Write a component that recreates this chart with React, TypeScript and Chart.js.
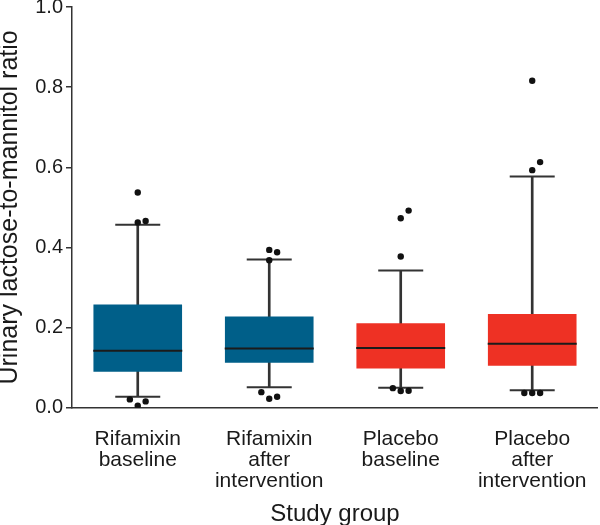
import React, { useEffect, useRef } from 'react';
import { Chart, registerables } from 'chart.js';

Chart.register(...registerables);

// ---- data ----
const categories: string[][] = [
  ['Rifamixin', 'baseline'],
  ['Rifamixin', 'after', 'intervention'],
  ['Placebo', 'baseline'],
  ['Placebo', 'after', 'intervention'],
];
const lowerQuartile = [0.09, 0.1125, 0.098, 0.105];
const upperQuartile = [0.2575, 0.2275, 0.211, 0.234];
const medianValues = [0.1425, 0.148, 0.149, 0.16];
const whiskerLow = [0.0275, 0.051, 0.05, 0.044];
const whiskerHigh = [0.457, 0.37, 0.3425, 0.577];
const outlierValues: number[][] = [
  [0.537, 0.466, 0.4625, 0.021, 0.005, 0.016],
  [0.394, 0.388, 0.368, 0.039, 0.0275, 0.0225],
  [0.492, 0.473, 0.3775, 0.049, 0.0425, 0.042],
  [0.816, 0.613, 0.593, 0.037, 0.037, 0.037],
];
const groupColors = ['#005f89', '#005f89', '#ee3124', '#ee3124'];
const yTicks = [0, 0.2, 0.4, 0.6, 0.8, 1.0];
const yTitle = 'Urinary lactose-to-mannitol ratio';
const xTitle = 'Study group';

const FONT = "'Liberation Sans', Arial, Helvetica, sans-serif";
const INK = '#1a1a1a';
const LINE = '#333333';

// simple beeswarm so near-equal outliers sit side by side
function swarm(values: number[], group: number) {
  const sorted = [...values].sort((a, b) => a - b);
  const placed: { v: number; s: number }[] = [];
  const slots = [0, 1, -1, 2, -2];
  return sorted.map((v) => {
    const s =
      slots.find((sl) => !placed.some((p) => p.s === sl && Math.abs(p.v - v) < 0.021)) ?? 0;
    placed.push({ v, s });
    return { x: group + s * 0.06, y: v };
  });
}

export default function App() {
  const ref = useRef<HTMLCanvasElement | null>(null);

  useEffect(() => {
    if (!ref.current) return;
    Chart.defaults.font.family = FONT;

    const groupIdx = categories.map((_, i) => i);
    const capPoints = [
      ...whiskerHigh.map((v, i) => ({ x: i, y: v })),
      ...whiskerLow.map((v, i) => ({ x: i, y: v })),
    ];
    const medianPoints = medianValues.map((v, i) => ({ x: i, y: v }));
    const outlierPoints = outlierValues.flatMap((vals, i) => swarm(vals, i));

    const chart = new Chart(ref.current, {
      type: 'bar',
      data: {
        datasets: [
          {
            type: 'bar',
            label: 'whisker',
            data: groupIdx.map((i) => ({ x: i, y: [whiskerLow[i], whiskerHigh[i]] })) as any,
            backgroundColor: LINE,
            borderWidth: 0,
            barThickness: 2,
            grouped: false,
            order: 4,
          } as any,
          {
            type: 'bar',
            label: 'box',
            data: groupIdx.map((i) => ({ x: i, y: [lowerQuartile[i], upperQuartile[i]] })) as any,
            backgroundColor: groupColors,
            borderWidth: 0,
            barPercentage: 0.674,
            categoryPercentage: 1,
            grouped: false,
            order: 3,
          } as any,
          {
            type: 'line',
            label: 'caps',
            data: capPoints as any,
            showLine: false,
            pointStyle: 'line',
            pointRadius: 22.5,
            pointHoverRadius: 22.5,
            borderColor: LINE,
            borderWidth: 2,
            order: 2,
          } as any,
          {
            type: 'line',
            label: 'median',
            data: medianPoints as any,
            showLine: false,
            pointStyle: 'line',
            pointRadius: 44.5,
            pointHoverRadius: 44.5,
            borderColor: '#1b1b1b',
            borderWidth: 2,
            order: 1,
          } as any,
          {
            type: 'line',
            label: 'outliers',
            data: outlierPoints as any,
            showLine: false,
            pointStyle: 'circle',
            pointRadius: 3.2,
            pointHoverRadius: 3.2,
            backgroundColor: '#111111',
            borderColor: '#111111',
            borderWidth: 0,
            order: 0,
          } as any,
        ],
      },
      options: {
        responsive: false,
        animation: false,
        layout: { padding: 0, autoPadding: false },
        plugins: {
          legend: { display: false },
          tooltip: { enabled: false },
        },
        scales: {
          x: {
            type: 'linear',
            min: -0.5,
            max: 3.5,
            offset: false,
            afterBuildTicks: (axis: any) => {
              axis.ticks = groupIdx.map((v) => ({ value: v }));
            },
            grid: { display: false, drawTicks: true, tickLength: 7 },
            border: { display: true, color: LINE, width: 1.5 },
            ticks: {
              color: INK,
              font: { size: 21, lineHeight: 1.0 },
              padding: 13.5,
              maxRotation: 0,
              autoSkip: false,
              callback: (v: any) => categories[Math.round(Number(v))] ?? '',
            },
            title: {
              display: true,
              text: xTitle,
              color: INK,
              font: { size: 24, lineHeight: 0.8 },
              padding: { top: 0, bottom: 1 },
            },
          },
          y: {
            type: 'linear',
            min: 0,
            max: 1,
            afterBuildTicks: (axis: any) => {
              axis.ticks = yTicks.map((v) => ({ value: v }));
            },
            ticks: {
              color: INK,
              font: { size: 20, lineHeight: 0.4 },
              padding: 3,
              callback: (v: any) => Number(v).toFixed(1),
            },
            grid: {
              display: true,
              drawOnChartArea: false,
              drawTicks: true,
              tickLength: 6,
              color: LINE,
              lineWidth: 1.5,
            },
            border: { display: true, color: LINE, width: 1.5 },
            title: {
              display: true,
              text: yTitle,
              color: INK,
              font: { size: 25, lineHeight: 0.8 },
              padding: { top: 0, bottom: 12.2 },
            },
          },
        },
      } as any,
    });

    return () => chart.destroy();
  }, []);

  return (
    <div style={{ position: 'fixed', left: 0, top: 0, width: 600, height: 525, background: '#fff' }}>
      <canvas ref={ref} width={600} height={525} style={{ display: 'block' }} />
    </div>
  );
}
